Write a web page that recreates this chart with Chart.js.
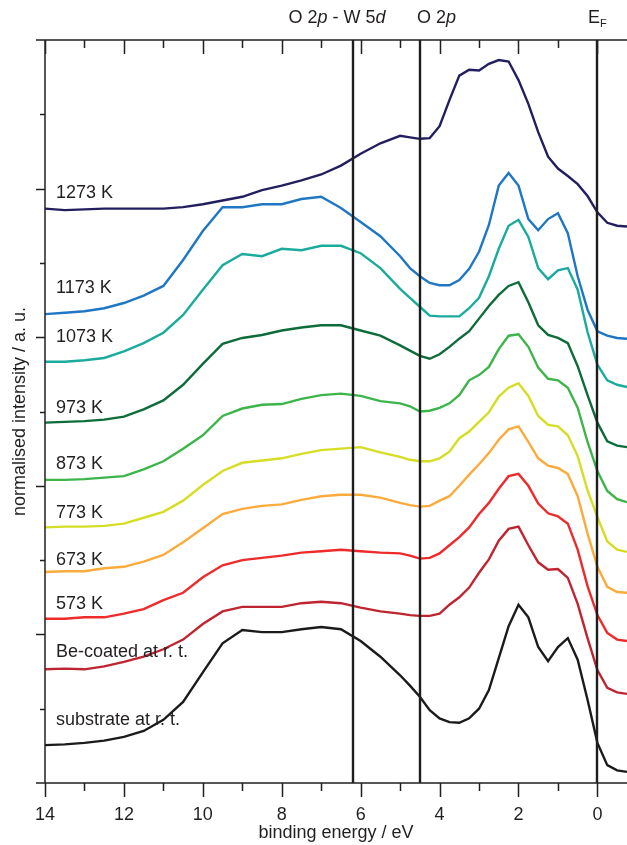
<!DOCTYPE html>
<html>
<head>
<meta charset="utf-8">
<title>Valence band spectra</title>
<script src="https://cdn.jsdelivr.net/npm/chart.js@4.4.1/dist/chart.umd.min.js"></script>
<style>
  html, body { margin: 0; padding: 0; background: #fff; }
  #plot { display: block; }
</style>
</head>
<body>
<canvas id="plot" width="627" height="845"></canvas>
<script>
// ------------------------------------------------------------
// Data: binding energy grid (eV) and normalised intensities
// ------------------------------------------------------------
const energies = [14, 13.5, 13, 12.5, 12, 11.5, 11, 10.5, 10, 9.5, 9, 8.5, 8, 7.5, 7, 6.5, 6, 5.5, 5,
  4.75, 4.5, 4.25, 4, 3.75, 3.5, 3.25, 3, 2.75, 2.5, 2.25, 2, 1.75, 1.5, 1.25, 1, 0.75, 0.5, 0.25, 0, -0.25, -0.5, -0.75];

const k1273 = [7.73, 7.71, 7.72, 7.73, 7.73, 7.73, 7.73, 7.75, 7.79, 7.84, 7.89, 7.98, 8.04, 8.11, 8.19, 8.31, 8.47, 8.61, 8.71,
  8.69, 8.67, 8.68, 8.84, 9.19, 9.52, 9.60, 9.59, 9.68, 9.73, 9.71, 9.46, 9.14, 8.76, 8.43, 8.27, 8.17, 8.06, 7.90, 7.68, 7.54, 7.50, 7.49];
const k1173 = [6.31, 6.33, 6.35, 6.39, 6.46, 6.56, 6.69, 7.04, 7.43, 7.75, 7.75, 7.79, 7.79, 7.86, 7.89, 7.74, 7.55, 7.36, 7.09,
  6.93, 6.82, 6.73, 6.70, 6.70, 6.77, 6.92, 7.15, 7.51, 8.04, 8.21, 8.04, 7.59, 7.44, 7.59, 7.67, 7.40, 6.82, 6.37, 6.08, 6.02, 5.99, 5.98];
const k1073 = [5.67, 5.67, 5.69, 5.72, 5.81, 5.92, 6.06, 6.30, 6.64, 6.97, 7.12, 7.09, 7.19, 7.17, 7.23, 7.23, 7.13, 6.93, 6.65,
  6.53, 6.41, 6.29, 6.28, 6.28, 6.28, 6.39, 6.53, 6.82, 7.19, 7.50, 7.58, 7.35, 6.93, 6.78, 6.90, 6.93, 6.64, 6.07, 5.63, 5.42, 5.36, 5.33];
const k973 = [4.85, 4.86, 4.87, 4.89, 4.93, 5.03, 5.15, 5.36, 5.64, 5.91, 5.99, 6.03, 6.09, 6.13, 6.16, 6.16, 6.09, 6.02, 5.89,
  5.82, 5.75, 5.71, 5.77, 5.87, 5.98, 6.08, 6.25, 6.42, 6.57, 6.69, 6.74, 6.47, 6.16, 6.03, 5.99, 5.92, 5.61, 5.22, 4.85, 4.60, 4.54, 4.52];
const k873 = [4.08, 4.08, 4.09, 4.11, 4.13, 4.22, 4.33, 4.50, 4.68, 4.94, 5.04, 5.09, 5.10, 5.17, 5.22, 5.24, 5.21, 5.14, 5.11,
  5.07, 5.00, 5.01, 5.05, 5.11, 5.22, 5.42, 5.49, 5.60, 5.84, 6.02, 6.04, 5.87, 5.59, 5.44, 5.42, 5.32, 5.05, 4.59, 4.20, 3.93, 3.82, 3.78];
const k773 = [3.44, 3.45, 3.45, 3.46, 3.49, 3.57, 3.65, 3.80, 4.01, 4.20, 4.31, 4.34, 4.37, 4.43, 4.48, 4.50, 4.52, 4.45, 4.39,
  4.35, 4.33, 4.33, 4.37, 4.46, 4.64, 4.73, 4.86, 4.99, 5.20, 5.32, 5.38, 5.21, 4.94, 4.82, 4.80, 4.68, 4.40, 3.94, 3.58, 3.25, 3.14, 3.11];
const k673 = [2.84, 2.85, 2.85, 2.89, 2.91, 2.98, 3.07, 3.24, 3.43, 3.62, 3.69, 3.73, 3.75, 3.81, 3.86, 3.88, 3.88, 3.84, 3.77,
  3.74, 3.72, 3.73, 3.80, 3.86, 4.00, 4.15, 4.29, 4.44, 4.62, 4.76, 4.80, 4.59, 4.37, 4.27, 4.24, 4.16, 3.86, 3.36, 2.91, 2.64, 2.57, 2.56];
const k573 = [2.21, 2.21, 2.23, 2.23, 2.28, 2.34, 2.46, 2.56, 2.77, 2.93, 3.00, 3.03, 3.06, 3.10, 3.12, 3.14, 3.12, 3.10, 3.09,
  3.06, 3.02, 3.03, 3.09, 3.20, 3.31, 3.44, 3.62, 3.77, 3.96, 4.13, 4.16, 4.00, 3.76, 3.63, 3.59, 3.49, 3.14, 2.65, 2.26, 2.02, 1.93, 1.91];
const beCoated = [1.53, 1.54, 1.53, 1.57, 1.63, 1.70, 1.80, 1.93, 2.14, 2.31, 2.37, 2.37, 2.37, 2.42, 2.44, 2.42, 2.36, 2.31, 2.28,
  2.26, 2.25, 2.25, 2.28, 2.40, 2.50, 2.63, 2.83, 3.01, 3.26, 3.42, 3.45, 3.20, 2.97, 2.87, 2.88, 2.76, 2.41, 1.95, 1.52, 1.28, 1.22, 1.20];
const substrate = [0.51, 0.52, 0.54, 0.57, 0.62, 0.70, 0.85, 1.09, 1.49, 1.88, 2.06, 2.03, 2.03, 2.07, 2.10, 2.07, 1.91, 1.70, 1.45,
  1.31, 1.16, 0.98, 0.87, 0.82, 0.81, 0.87, 1.00, 1.25, 1.68, 2.11, 2.40, 2.23, 1.83, 1.64, 1.83, 1.95, 1.66, 1.12, 0.54, 0.24, 0.17, 0.15];

const seriesNames = ['1273 K', '1173 K', '1073 K', '973 K', '873 K', '773 K', '673 K', '573 K', 'Be-coated at r. t.', 'substrate at r. t.'];
const seriesValues = [k1273, k1173, k1073, k973, k873, k773, k673, k573, beCoated, substrate];

// reference energies (vertical lines) and tick values
const markerEnergies = [6.2, 4.5, 0];
const xTickValues = [14, 12, 10, 8, 6, 4, 2, 0];

// ------------------------------------------------------------
// Styling
// ------------------------------------------------------------
const FONT = '"Liberation Sans", Arial, Helvetica, sans-serif';
const INK = '#231f20';
const seriesColors = ['#231f5e', '#1f77c4', '#1aab9d', '#0e6b3a', '#3cb54a', '#d5de24', '#fbab3c', '#ee2a2b', '#bf2530', '#1b1b1b'];
// how far each name sits above the start of its curve (px)
const labelLift = [16, 26, 25, 15, 16, 14, 12, 15, 17, 25];

const datasets = seriesValues.map((vals, i) => ({
    label: seriesNames[i],
    data: energies.map((e, j) => ({ x: e, y: vals[j] })),
    borderColor: seriesColors[i],
    borderWidth: 2.4,
    pointRadius: 0,
    tension: 0,
    fill: false
}));

// Frame, ticks, marker lines and all annotation text
const decorations = {
    id: 'decorations',
    afterDatasetsDraw(chart) {
        const { ctx, chartArea: a, scales: { x } } = chart;
        ctx.save();
        ctx.strokeStyle = '#1e1e1e';
        ctx.lineWidth = 2.4;
        ctx.beginPath();
        markerEnergies.forEach(e => {
            const px = Math.round(x.getPixelForValue(e));
            ctx.moveTo(px, a.top);
            ctx.lineTo(px, a.bottom);
        });
        ctx.stroke();
        ctx.restore();
    },
    afterDraw(chart) {
        const { ctx, chartArea: a, scales: { x, y } } = chart;
        ctx.save();

        // axes + ticks
        ctx.strokeStyle = INK;
        ctx.lineWidth = 1.5;
        ctx.beginPath();
        ctx.moveTo(a.left, a.top); ctx.lineTo(a.left, a.bottom);
        ctx.moveTo(a.left - 9, a.top); ctx.lineTo(a.right, a.top);
        ctx.moveTo(a.left - 9, a.bottom); ctx.lineTo(a.right, a.bottom);
        for (let e = 0; e <= 14; e++) {
            const px = Math.round(x.getPixelForValue(e)) + 0.5;
            const len = e % 2 === 0 ? 14 : 8;
            ctx.moveTo(px, a.bottom); ctx.lineTo(px, a.bottom + len);
            ctx.moveTo(px, a.top); ctx.lineTo(px, a.top + len);
        }
        for (let v = 1; v < 10; v++) {
            const py = Math.round(y.getPixelForValue(v)) + 0.5;
            const len = v % 2 === 0 ? 9 : 5;
            ctx.moveTo(a.left - len, py); ctx.lineTo(a.left, py);
        }
        ctx.stroke();

        ctx.fillStyle = INK;
        ctx.font = '18px ' + FONT;

        // curve names
        ctx.textAlign = 'left';
        ctx.textBaseline = 'middle';
        seriesValues.forEach((vals, i) => {
            ctx.fillText(seriesNames[i], a.left + 11, y.getPixelForValue(vals[0]) - labelLift[i]);
        });

        // axis titles
        ctx.textAlign = 'center';
        ctx.fillText('binding energy / eV', (a.left + a.right) / 2, 833);
        ctx.save();
        ctx.translate(20, (a.top + a.bottom) / 2);
        ctx.rotate(-Math.PI / 2);
        ctx.fillText('normalised intensity / a. u.', 0, 0);
        ctx.restore();

        // header labels: mixed upright / italic runs
        const drawRuns = (runs, cx, cy) => {
            const widths = runs.map(r => { ctx.font = r[1] + FONT; return ctx.measureText(r[0]).width; });
            let left = cx - widths.reduce((s, w) => s + w, 0) / 2;
            ctx.textAlign = 'left';
            runs.forEach((r, i) => {
                ctx.font = r[1] + FONT;
                ctx.fillText(r[0], left, cy + (r[2] || 0));
                left += widths[i];
            });
        };
        drawRuns([['O 2', '18px '], ['p', 'italic 18px '], [' - W 5', '18px '], ['d', 'italic 18px ']], x.getPixelForValue(6.6), 18);
        drawRuns([['O 2', '18px '], ['p', 'italic 18px ']], x.getPixelForValue(4.08), 18);
        drawRuns([['E', '18px '], ['F', '11px ', 6]], x.getPixelForValue(0), 18);

        ctx.restore();
    }
};

new Chart(document.getElementById('plot'), {
    type: 'line',
    data: { datasets },
    options: {
        responsive: false,
        animation: false,
        devicePixelRatio: 1,
        layout: { padding: { top: 40, right: 0, left: 0, bottom: 0 } },
        plugins: { legend: { display: false }, tooltip: { enabled: false } },
        scales: {
            x: {
                type: 'linear',
                reverse: true,
                min: -0.75,
                max: 14,
                grid: { display: false, drawTicks: false },
                border: { display: false },
                afterBuildTicks: s => { s.ticks = xTickValues.map(v => ({ value: v })); },
                ticks: {
                    autoSkip: false,
                    maxRotation: 0,
                    padding: 21,
                    color: INK,
                    font: { family: FONT, size: 18 },
                    callback: v => String(v)
                },
                afterFit: s => { s.height = 62; }
            },
            y: {
                min: 0,
                max: 10,
                grid: { display: false, drawTicks: false },
                border: { display: false },
                ticks: { display: false },
                afterFit: s => { s.width = 45; }
            }
        }
    },
    plugins: [decorations]
});
</script>
</body>
</html>
